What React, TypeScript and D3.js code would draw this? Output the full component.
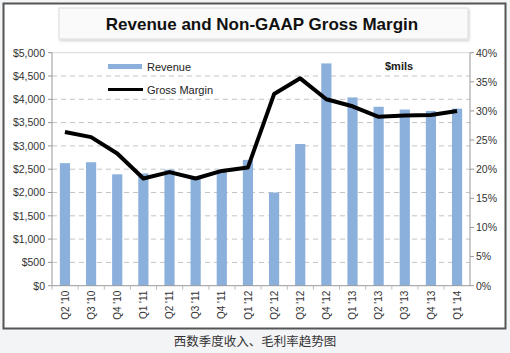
import React from "react";
import * as d3 from "d3";

// quarters on the x axis
const quarters = [
  "Q2 '10", "Q3 '10", "Q4 '10", "Q1 '11", "Q2 '11", "Q3 '11", "Q4 '11", "Q1 '12",
  "Q2 '12", "Q3 '12", "Q4 '12", "Q1 '13", "Q2 '13", "Q3 '13", "Q4 '13", "Q1 '14",
];
// revenue in $ millions
const revenue = [2630, 2650, 2390, 2410, 2490, 2320, 2490, 2700, 2000, 3040, 4770, 4040, 3840, 3780, 3750, 3800];
// non-GAAP gross margin in %
const grossMargin = [26.4, 25.5, 22.7, 18.4, 19.5, 18.4, 19.7, 20.3, 32.9, 35.6, 32.0, 30.8, 29.0, 29.2, 29.3, 30.0];

const revenueTicks = [0, 500, 1000, 1500, 2000, 2500, 3000, 3500, 4000, 4500, 5000];
const marginTicks = [0, 5, 10, 15, 20, 25, 30, 35, 40];

const W = 510;
const H = 353;
const margin = { top: 52.7, right: 40, bottom: 67.3, left: 52 };
const FONT = "'Liberation Sans', Arial, sans-serif";

export default function App() {
  const x = d3
    .scaleBand<string>()
    .domain(quarters)
    .range([margin.left, W - margin.right])
    .paddingInner(0.61)
    .paddingOuter(0.3);
  const yRev = d3.scaleLinear().domain([0, 5000]).range([H - margin.bottom, margin.top]);
  const yGm = d3.scaleLinear().domain([0, 40]).range([H - margin.bottom, margin.top]);

  const line = d3
    .line<number>()
    .x((_, i) => (x(quarters[i]) as number) + x.bandwidth() / 2)
    .y((d) => yGm(d));

  const left = margin.left;
  const right = W - margin.right;
  const bottom = H - margin.bottom;
  const step = x.step();
  const fmt = d3.format(",");

  return (
    <>
      <style>{`body{margin:0;background:#f3f4f6}`}</style>
      <svg width={W} height={H} style={{ display: "block", fontFamily: FONT }}>
        <defs>
          <filter id="sh" x="-5%" y="-20%" width="110%" height="150%">
            <feDropShadow dx="1" dy="1.5" stdDeviation="1.2" floodColor="#000" floodOpacity="0.18" />
          </filter>
        </defs>
        <rect x={0} y={0} width={W} height={H} fill="#f3f4f6" />
        {/* outer frame */}
        <rect x={3.5} y={3.5} width={502} height={325} fill="#fff" stroke="#555" strokeWidth={2} />

        {/* title box */}
        <rect x={59} y={8} width={409} height={31} fill="#fafafa" stroke="#dcdcdc" filter="url(#sh)" />
        <text x={262} y={29.5} textAnchor="middle" fontSize={17} fontWeight="bold" fill="#111">
          Revenue and Non-GAAP Gross Margin
        </text>

        {/* gridlines */}
        {revenueTicks.slice(1).map((t) => (
          <line
            key={t}
            x1={left}
            x2={right}
            y1={yRev(t)}
            y2={yRev(t)}
            stroke={t === 5000 ? "#d8d8d8" : "#c4c4c4"}
            strokeDasharray={t === 5000 ? undefined : "5,4"}
          />
        ))}

        {/* bars */}
        {revenue.map((v, i) => (
          <rect
            key={quarters[i]}
            x={x(quarters[i])}
            y={yRev(v)}
            width={x.bandwidth()}
            height={bottom - yRev(v)}
            fill="#8cb0dc"
          />
        ))}

        {/* gross margin line */}
        <path d={line(grossMargin) ?? ""} fill="none" stroke="#000" strokeWidth={4} strokeLinejoin="round" />

        {/* axes */}
        <line x1={left} x2={left} y1={margin.top} y2={bottom} stroke="#999" />
        <line x1={right} x2={right} y1={margin.top} y2={bottom} stroke="#999" />
        <line x1={left} x2={right} y1={bottom} y2={bottom} stroke="#999" />
        {revenueTicks.map((t) => (
          <g key={t}>
            <line x1={left - 4} x2={left} y1={yRev(t)} y2={yRev(t)} stroke="#999" />
            <text x={45} y={yRev(t) + 3.8} textAnchor="end" fontSize={10.5} fill="#333">
              ${fmt(t)}
            </text>
          </g>
        ))}
        {marginTicks.map((t) => (
          <g key={t}>
            <line x1={right} x2={right + 4} y1={yGm(t)} y2={yGm(t)} stroke="#999" />
            <text x={476} y={yGm(t) + 3.8} fontSize={10.5} fill="#333">
              {t}%
            </text>
          </g>
        ))}
        {quarters.map((q, i) => (
          <line
            key={"t" + q}
            x1={left + step * i}
            x2={left + step * i}
            y1={bottom}
            y2={bottom + 4}
            stroke="#bbb"
          />
        ))}
        {quarters.map((q) => {
          const cx = (x(q) as number) + x.bandwidth() / 2;
          return (
            <text
              key={"l" + q}
              transform={`translate(${cx + 3.6},${bottom + 5}) rotate(-90)`}
              textAnchor="end"
              fontSize={10}
              fill="#333"
            >
              {q}
            </text>
          );
        })}

        {/* legend */}
        <rect x={108} y={64} width={34} height={5} fill="#8cb0dc" />
        <text x={147} y={70.5} fontSize={11} fill="#222">Revenue</text>
        <line x1={108} x2={143} y1={89.5} y2={89.5} stroke="#000" strokeWidth={3} />
        <text x={147} y={93.5} fontSize={11} fill="#222">Gross Margin</text>
        <text x={385} y={70} fontSize={11} fontWeight="bold" fill="#222">$mils</text>

        {/* caption */}
        <text x={255} y={346} textAnchor="middle" fontSize={12.5} fill="#333" fontFamily="'Noto Sans CJK SC', sans-serif">
          西数季度收入、毛利率趋势图
        </text>
      </svg>
    </>
  );
}
